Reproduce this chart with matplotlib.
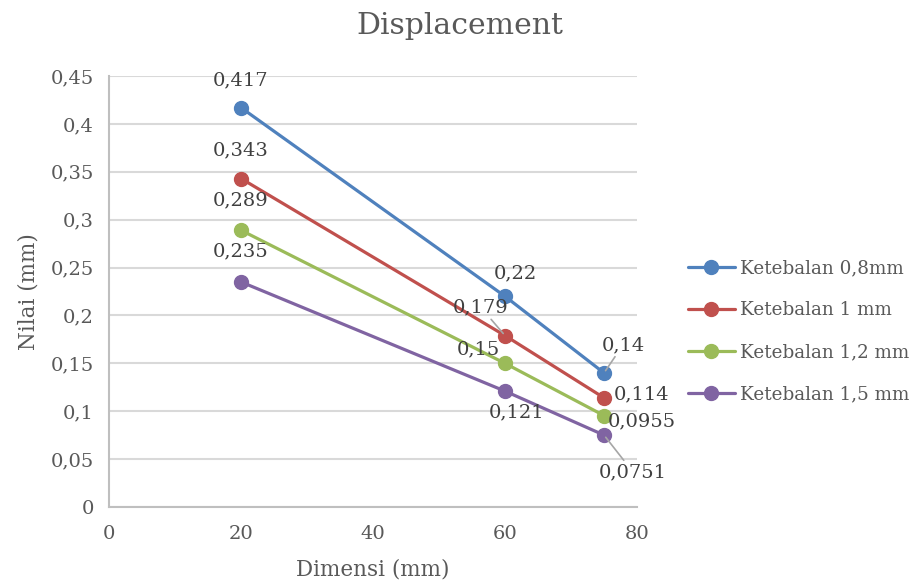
import matplotlib
matplotlib.use("Agg")
from matplotlib import pyplot as plt
from matplotlib.ticker import MultipleLocator, FuncFormatter

plt.rcParams['font.family'] = ['DejaVu Serif']

dimensi = [20, 60, 75]
series_names = ['Ketebalan 0,8mm', 'Ketebalan 1 mm', 'Ketebalan 1,2 mm', 'Ketebalan 1,5 mm']
tebal_08 = [0.417, 0.22, 0.14]
tebal_10 = [0.343, 0.179, 0.114]
tebal_12 = [0.289, 0.15, 0.0955]
tebal_15 = [0.235, 0.121, 0.0751]
label_text = [['0,417', '0,22', '0,14'],
              ['0,343', '0,179', '0,114'],
              ['0,289', '0,15', '0,0955'],
              ['0,235', '0,121', '0,0751']]

colors = ['#4F81BD', '#C0504D', '#9BBB59', '#8064A2']
text_col = '#595959'

# label offsets in pixels (dx, dy) and whether a leader line is drawn
offsets = [
    [((0, 27), False), ((10, 23), False), ((19, 28), True)],
    [((0, 28), False), ((-24, 28), True), ((38, 3), False)],
    [((0, 30), False), ((-27, 14), False), ((38, -6), False)],
    [((0, 31), False), ((12, -21), False), ((29, -37), True)],
]

fig = plt.figure(figsize=(9.2, 5.85), dpi=100)
ax = fig.add_axes([0.1185, 0.1333, 0.5739, 0.7367])

all_series = [tebal_08, tebal_10, tebal_12, tebal_15]
for vals, name, c, labs, offs in zip(all_series, series_names, colors, label_text, offsets):
    ax.plot(dimensi, vals, color=c, lw=2.3, marker='o', ms=10, label=name,
            solid_capstyle='round', zorder=3)
    for x, y, t, ((dx, dy), leader) in zip(dimensi, vals, labs, offs):
        ax.annotate(t, xy=(x, y), xytext=(dx, dy), textcoords='offset pixels',
                    ha='center', va='center', fontsize=14, color='#404040',
                    arrowprops=dict(arrowstyle='-', color='#A6A6A6', lw=1.2,
                                    shrinkA=0, shrinkB=2) if leader else None,
                    zorder=4)

ax.set_xlim(0, 80)
ax.set_ylim(0, 0.45)
ax.xaxis.set_major_locator(MultipleLocator(20))
ax.yaxis.set_major_locator(MultipleLocator(0.05))
ax.yaxis.set_major_formatter(FuncFormatter(lambda v, p: ('%g' % round(v, 2)).replace('.', ',')))
ax.xaxis.set_major_formatter(FuncFormatter(lambda v, p: '%d' % v))
ax.grid(axis='y', color='#D9D9D9', lw=1.5)
ax.set_axisbelow(True)
for s in ['top', 'right']:
    ax.spines[s].set_visible(False)
for s in ['left', 'bottom']:
    ax.spines[s].set_color('#BFBFBF')
    ax.spines[s].set_linewidth(1.5)
ax.tick_params(length=0, labelsize=14, colors=text_col, pad=11)
ax.tick_params(axis='x', pad=13)

ax.set_xlabel('Dimensi (mm)', fontsize=15.5, color=text_col, labelpad=11)
ax.set_ylabel('Nilai (mm)', fontsize=15.5, color=text_col, labelpad=8)
fig.text(0.5, 0.956, 'Displacement', ha='center', va='center', fontsize=21.5, color=text_col)

leg = ax.legend(loc='center left', bbox_to_anchor=(1.082, 0.408), frameon=False,
                fontsize=13.2, labelspacing=1.3, handlelength=2.6, handletextpad=0.25,
                labelcolor=text_col, borderaxespad=0)

fig.savefig('out.png', dpi=100)
